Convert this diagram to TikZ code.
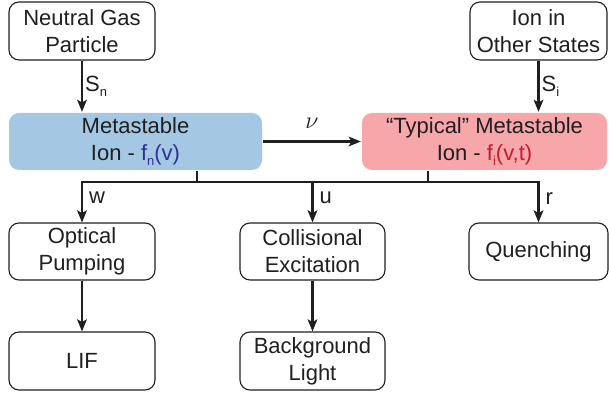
\documentclass[tikz,border=0pt]{standalone}
\usepackage{fontspec}
\setmainfont{Liberation Sans}
\usetikzlibrary{arrows.meta}

\newcommand{\lowsub}[1]{\raisebox{-2.4pt}{\fontsize{6.5}{7}\selectfont #1}}

\begin{document}
\begin{tikzpicture}[x=0.5pt, y=-0.5pt, line width=1.15pt,
    font=\fontsize{11}{13.5}\selectfont, color=black!88,
    box/.style={draw, line width=0.55pt, rounded corners=5pt, align=center, inner sep=0pt},
    fbox/.style={rounded corners=5pt, align=center, inner sep=0pt, minimum height=28.5pt},
    arr/.style={-{Stealth[length=6pt,width=4.8pt,inset=1.3pt]}},
    lbl/.style={right=2pt, inner sep=1pt}]
    \definecolor{metablue}{RGB}{164,200,228}
    \definecolor{typred}{RGB}{247,166,170}
    \definecolor{fncolor}{RGB}{46,49,146}
    \definecolor{ficolor}{RGB}{190,30,45}

    \useasboundingbox (0,0) rectangle (609,394);

    % sources
    \node[box, minimum width=73pt, minimum height=29pt] (ngp) at (82,31) {Neutral Gas\\Particle};
    \node[box, minimum width=68.5pt, minimum height=29pt] (ios) at (538.5,31) {Ion in\\Other States};

    % metastable ions
    \node[fbox, fill=metablue, minimum width=126.5pt] (meta) at (135.5,141.5) {Metastable\\Ion - \textcolor{fncolor}{f\lowsub{n}(v)}};
    \node[fbox, fill=typred, minimum width=122.5pt] (typ) at (484.5,141.5) {``Typical'' Metastable\\Ion - \textcolor{ficolor}{f\lowsub{i}(v,t)}};

    % loss channels
    \node[box, minimum width=73pt, minimum height=28.5pt] (op) at (82,251.5) {Optical\\Pumping};
    \node[box, minimum width=72.5pt, minimum height=28.5pt] (ce) at (312.5,251.5) {Collisional\\Excitation};
    \node[box, minimum width=69.5pt, minimum height=28.5pt] (q) at (538.5,251.5) {Quenching};
    \node[box, minimum width=73pt, minimum height=29pt] (lif) at (82,361) {LIF};
    \node[box, minimum width=72.5pt, minimum height=29pt] (bl) at (312.5,361) {Background\\Light};

    \coordinate (mstem) at (197,182);
    \coordinate (tstem) at (428,182);

    \draw[arr] (ngp.south) -- (ngp.south |- meta.north) node[midway, right=0pt, inner sep=1pt] {S\lowsub{n}};
    \draw[arr] (ios.south) -- (ios.south |- typ.north) node[midway, right=0pt, inner sep=1pt] {S\lowsub{i}};
    \draw[arr] (meta.east) -- (typ.west) node[midway, above=2.5pt] {\large$\nu$};

    \draw (mstem |- meta.south) -- (mstem);
    \draw (tstem |- typ.south) -- (tstem);
    \draw (mstem) -- (tstem); % bus
    \draw[arr] (mstem) -| (op.north) node[lbl, pos=0.7] {w};
    \draw[arr] (ce.north |- mstem) -- (ce.north) node[lbl, pos=0.4] {u};
    \draw[arr] (tstem) -| (q.north) node[lbl, pos=0.7] {r};

    \draw[arr] (op) -- (lif);
    \draw[arr] (ce) -- (bl);
\end{tikzpicture}
\end{document}
